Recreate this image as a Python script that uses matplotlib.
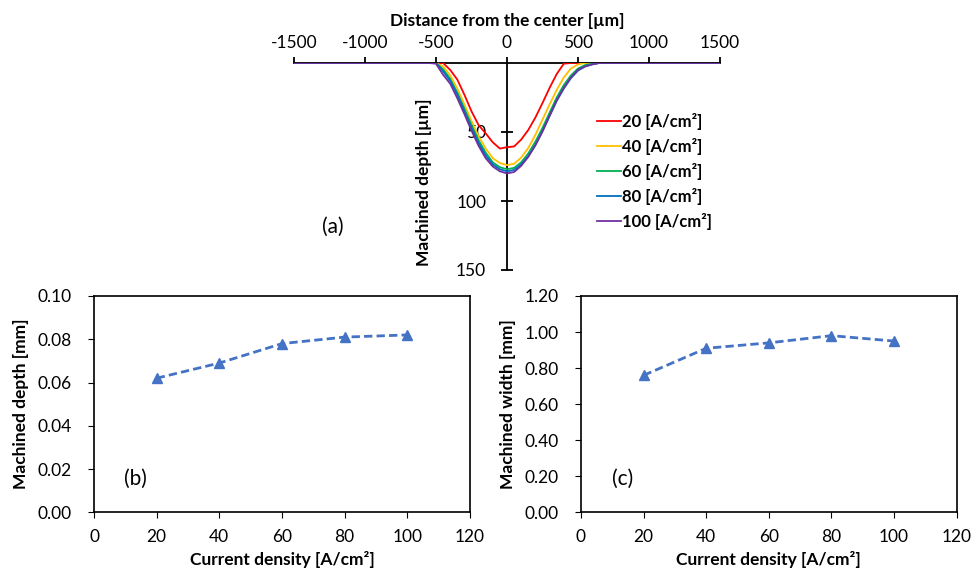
import numpy as np
import matplotlib
matplotlib.use('Agg')
import matplotlib.pyplot as plt

plt.rcParams['font.family'] = ['Lato', 'DejaVu Sans']
plt.rcParams['axes.unicode_minus'] = False

# (a) depth profiles, distance in um, depth in um
dist = [-1500, -600, -550, -500, -450, -400, -350, -300, -250, -200, -150, -100, -50,
        0, 50, 100, 150, 200, 250, 300, 350, 400, 450, 500, 550, 600, 650, 700, 1500]
depth_20 = [0, 0, 0, 0, 0, 5, 12, 23, 35, 45, 51, 57.5, 62,
            61, 60.5, 55.5, 48.5, 39.5, 29, 18, 8, 0.5, 0, 0, 0, 0, 0, 0, 0]
depth_40 = [0, 0, 0, 0, 2.5, 9, 18.5, 30, 42, 53, 62, 69, 72.5,
            74, 73, 68.5, 61.5, 52, 41, 30, 19.5, 10.5, 4, 1, 0, 0, 0, 0, 0]
depth_60 = [0, 0, 0, 0, 4.5, 11.5, 21.5, 33, 45, 56, 65, 72, 75.5,
            77, 76, 72, 65.5, 57, 47, 36, 25, 16, 9, 4, 1.5, 0.5, 0, 0, 0]
depth_80 = [0, 0, 0, 0, 6, 13, 23, 35, 47, 58, 67, 73.5, 77,
            78.5, 77.5, 73.5, 67.5, 59.5, 49.5, 38.5, 27.5, 18.5, 11, 5.5, 2.5, 1, 0, 0, 0]
depth_100 = [0, 0, 0, 0.5, 8.5, 15, 25.5, 37, 49, 60, 69, 75, 78.5,
             80, 79, 74.5, 68, 59.5, 49.5, 38, 27, 18, 10.5, 5, 2.5, 1, 0, 0, 0]
profile_labels = ['20 [A/cm²]', '40 [A/cm²]', '60 [A/cm²]', '80 [A/cm²]', '100 [A/cm²]']
profile_colors = ['#FF0000', '#FFC000', '#00B050', '#0070C0', '#7030A0']

# (b), (c) summary
current = [20, 40, 60, 80, 100]
mach_depth = [0.062, 0.069, 0.078, 0.081, 0.082]
mach_width = [0.76, 0.91, 0.94, 0.98, 0.95]

W, H = 973, 569
fig = plt.figure(figsize=(W / 100, H / 100), dpi=100)

# ---- panel (a)
ax = fig.add_axes([294 / W, 1 - 270 / H, 426 / W, 207 / H])
for d, lab, c in zip([depth_20, depth_40, depth_60, depth_80, depth_100], profile_labels, profile_colors):
    ax.plot(dist, d, color=c, lw=1.3, label=lab, zorder=3)
ax.set_xlim(-1500, 1500)
ax.set_ylim(150, 0)
ax.spines['bottom'].set_visible(False)
ax.spines['right'].set_visible(False)
ax.spines['left'].set_position(('data', 0))
ax.spines['top'].set_linewidth(1.3)
ax.spines['left'].set_linewidth(1.3)
ax.xaxis.tick_top()
ax.set_xticks([-1500, -1000, -500, 0, 500, 1000, 1500])
ax.set_yticks([50, 100, 150])
ax.tick_params(axis='x', direction='out', length=4, width=1.3, pad=5, labelsize=12.5)
ax.tick_params(axis='y', direction='inout', length=8, width=1.3, pad=11, labelsize=12.5)
ax.xaxis.set_label_position('top')
ax.set_xlabel('Distance from the center [µm]', fontsize=12.5, fontweight='bold')
ax.xaxis.set_label_coords(0.5, 1.18)
ax.set_ylabel('Machined depth [µm]', fontsize=12.5, fontweight='bold')
ax.yaxis.set_label_coords(0.325, 0.425)
ax.text(0.09, 0.21, '(a)', transform=ax.transAxes, fontsize=15, ha='center', va='center')
leg = ax.legend(loc='upper left', bbox_to_anchor=(590 / W, 1 - 106 / H), bbox_transform=fig.transFigure,
                frameon=False, prop={'weight': 'bold', 'size': 12}, handlelength=1.45,
                handletextpad=0.1, labelspacing=0.48, borderaxespad=0)

# ---- panels (b) and (c)
def summary(rect, y, ylim, yticks, fmt, ylabel, tag):
    a = fig.add_axes(rect)
    a.plot(current, y, color='#4472C4', ls='--', lw=2, marker='^', ms=7, dashes=(3, 1.5))
    a.set_xlim(0, 120)
    a.set_ylim(*ylim)
    a.set_xticks(range(0, 121, 20))
    a.set_yticks(yticks)
    a.set_yticklabels([fmt.format(v) for v in yticks])
    a.tick_params(axis='x', length=4, pad=8, labelsize=12.5)
    a.tick_params(axis='y', length=4, pad=12, labelsize=12.5)
    for s in a.spines.values():
        s.set_linewidth(1.2)
    a.set_xlabel('Current density [A/cm²]', fontsize=12.5, fontweight='bold', labelpad=4)
    a.set_ylabel(ylabel, fontsize=12.5, fontweight='bold', labelpad=6)
    a.text(0.11, 0.155, tag, transform=a.transAxes, fontsize=15, ha='center', va='center')
    return a

summary([94 / W, 1 - 512.3 / H, 376 / W, 216.3 / H], mach_depth, (0, 0.10),
        [0, 0.02, 0.04, 0.06, 0.08, 0.10], '{:.2f}', 'Machined depth [mm]', '(b)')
summary([581 / W, 1 - 512.3 / H, 375.7 / W, 216.3 / H], mach_width, (0, 1.20),
        [0, 0.2, 0.4, 0.6, 0.8, 1.0, 1.2], '{:.2f}', 'Machined width [mm]', '(c)')

fig.savefig('out.png', dpi=100)
